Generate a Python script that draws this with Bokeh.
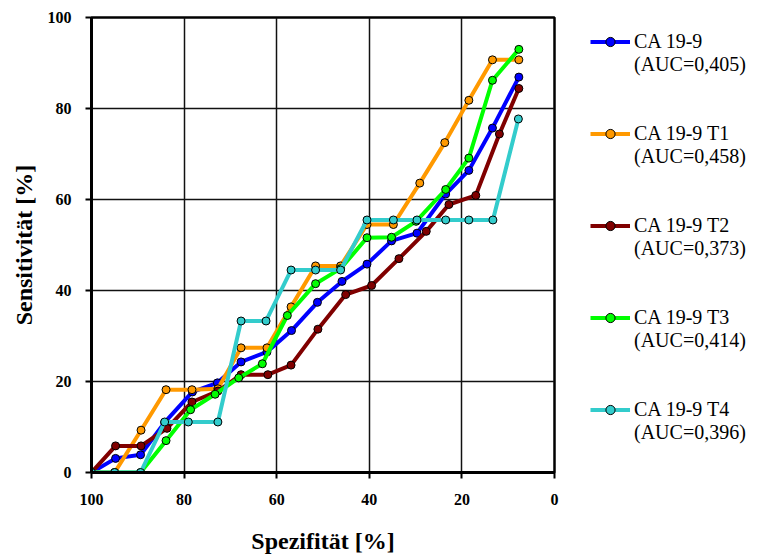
from bokeh.plotting import figure
from bokeh.layouts import row
from bokeh.models import Range1d, Legend, LegendItem, FixedTicker
from bokeh.embed import file_html
from bokeh.resources import INLINE

# --- data ---
series_names = ["CA 19-9", "CA 19-9 T1", "CA 19-9 T2", "CA 19-9 T3", "CA 19-9 T4"]
auc_labels = ["(AUC=0,405)", "(AUC=0,458)", "(AUC=0,373)", "(AUC=0,414)", "(AUC=0,396)"]

ca199_x = [100, 94.8, 89.4, 84.2, 78.2, 72.8, 67.7, 62.1, 56.8, 51.2, 45.9, 40.5, 35.2, 29.7, 23.5, 18.5, 13.4, 7.7]
ca199_y = [0, 3.1, 3.9, 11.0, 17.7, 19.7, 24.3, 26.5, 31.2, 37.4, 42.0, 45.8, 50.9, 52.6, 61.2, 66.4, 75.7, 86.9]

t1_x = [100, 95.0, 89.3, 83.9, 78.3, 72.7, 67.7, 62.1, 56.9, 51.6, 46.2, 40.5, 34.8, 29.1, 23.7, 18.5, 13.4, 7.7]
t1_y = [0, 0, 9.3, 18.2, 18.2, 18.4, 27.4, 27.4, 36.4, 45.4, 45.4, 54.5, 54.5, 63.6, 72.5, 81.8, 90.7, 90.7]

t2_x = [100, 94.8, 89.3, 83.7, 78.3, 72.7, 67.7, 61.9, 56.9, 51.1, 45.1, 39.5, 33.6, 27.7, 22.8, 17.0, 11.9, 7.7]
t2_y = [0, 5.85, 5.85, 9.7, 15.5, 17.9, 21.5, 21.5, 23.6, 31.5, 39.1, 41.1, 47.0, 53.0, 58.9, 60.9, 74.4, 84.4]

t3_x = [100, 95.0, 89.4, 83.9, 78.6, 73.3, 68.2, 63.1, 57.7, 51.6, 46.2, 40.5, 35.2, 29.9, 23.5, 18.5, 13.4, 7.7]
t3_y = [0, 0, 0, 7.0, 13.8, 17.2, 20.8, 23.9, 34.5, 41.5, 44.8, 51.6, 51.7, 55.2, 62.2, 69.1, 86.2, 93.0]

t4_x = [100, 95.0, 89.4, 84.2, 79.1, 72.7, 67.7, 62.3, 56.9, 51.6, 46.2, 40.5, 34.8, 29.7, 23.5, 18.5, 13.3, 7.8]
t4_y = [0, 0, 0, 11.1, 11.1, 11.1, 33.3, 33.3, 44.5, 44.5, 44.5, 55.5, 55.5, 55.5, 55.5, 55.5, 55.5, 77.7]

colors = ["#0000FF", "#FF9900", "#800000", "#00FF00", "#33CCCC"]
tick_values = [0, 20, 40, 60, 80, 100]

all_x = [ca199_x, t1_x, t2_x, t3_x, t4_x]
all_y = [ca199_y, t1_y, t2_y, t3_y, t4_y]

SERIF = "Liberation Serif"

p = figure(width=560, height=557, output_backend="svg", toolbar_location=None,
           x_range=Range1d(100, 0), y_range=Range1d(0, 100),
           min_border_left=91, min_border_right=6, min_border_top=17, min_border_bottom=85)

p.background_fill_color = "white"
p.border_fill_color = "white"
p.outline_line_color = "black"
p.outline_line_width = 2.5

for ax in (p.xaxis[0], p.yaxis[0]):
    ax.ticker = FixedTicker(ticks=tick_values)
    ax.axis_line_width = 3
    ax.axis_line_color = "black"
    ax.major_tick_line_width = 2
    ax.major_tick_line_color = "black"
    ax.major_tick_out = 6
    ax.major_tick_in = 0
    ax.minor_tick_line_color = None
    ax.major_label_text_font = SERIF
    ax.major_label_text_font_style = "bold"
    ax.major_label_text_font_size = "16px"
    ax.major_label_text_color = "black"
    ax.major_label_standoff = 14
    ax.axis_label_text_font = SERIF
    ax.axis_label_text_font_style = "bold"
    ax.axis_label_text_font_size = "24px"
    ax.axis_label_text_color = "black"

p.xaxis.axis_label = "Spezifität [%]"
p.yaxis.axis_label = "Sensitivität [%]"
p.xaxis.major_label_standoff = 15
p.xaxis.axis_label_standoff = 20
p.yaxis.axis_label_standoff = 8

p.xgrid.grid_line_color = "#111111"
p.ygrid.grid_line_color = "#111111"
p.xgrid.grid_line_width = 1.5
p.ygrid.grid_line_width = 1.5
p.xgrid.ticker = FixedTicker(ticks=tick_values)
p.ygrid.ticker = FixedTicker(ticks=tick_values)

for i, (xs, ys) in enumerate(zip(all_x, all_y)):
    p.line(xs, ys, line_color=colors[i], line_width=4)
    p.scatter(xs, ys, size=8, marker="circle", fill_color=colors[i],
              line_color="black", line_width=1)

# --- legend panel (its swatches sit outside the visible range) ---
q = figure(width=200, height=557, output_backend="svg", toolbar_location=None,
           x_range=Range1d(0, 1), y_range=Range1d(0, 1),
           min_border_left=17, min_border_right=0, min_border_top=17, min_border_bottom=85)
q.outline_line_color = None
q.axis.visible = False
q.grid.visible = False
q.background_fill_color = "white"
q.border_fill_color = "white"

items = []
k = 0
for i in range(len(series_names)):
    lr = q.line(x=[5, 6], y=[5, 6], line_color=colors[i], line_width=4)
    sr = q.scatter(x=[5], y=[5], size=6, marker="circle", fill_color=colors[i],
                   line_color="black", line_width=1)
    items.append(LegendItem(label=series_names[i], renderers=[lr, sr]))
    d = q.line(x=[5, 6], y=[5, 6], line_alpha=0)
    items.append(LegendItem(label=auc_labels[i], renderers=[d]))
    if i < len(series_names) - 1:
        for _ in range(2):
            k += 1
            d = q.line(x=[5, 6], y=[5, 6], line_alpha=0)
            items.append(LegendItem(label=" " * k, renderers=[d]))

legend = Legend(items=items, location="top_left")
legend.label_text_font = SERIF
legend.label_text_font_size = "20px"
legend.label_text_color = "black"
legend.label_height = 23
legend.glyph_height = 23
legend.glyph_width = 40
legend.spacing = 0
legend.padding = 0
legend.margin = 13
legend.label_standoff = 4
legend.background_fill_alpha = 0
legend.border_line_alpha = 0
q.add_layout(legend, "center")

open("out.html", "w").write(file_html(row(p, q), INLINE))
